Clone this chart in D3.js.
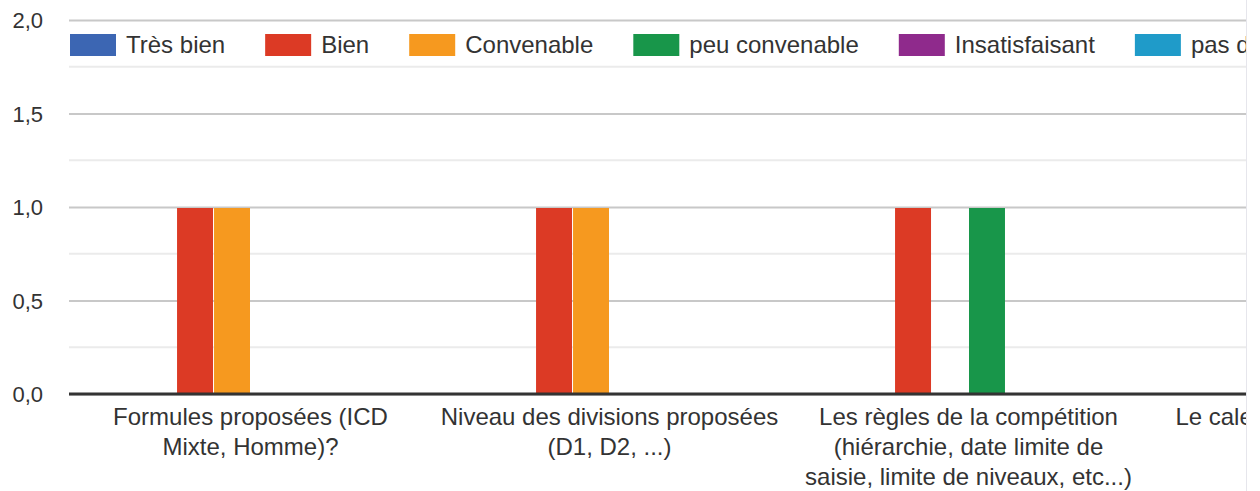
<!DOCTYPE html>
<html>
<head>
<meta charset="utf-8">
<script src="https://cdn.jsdelivr.net/npm/d3@7/dist/d3.min.js"></script>
<style>
  html, body { margin: 0; padding: 0; background: #fff; }
  svg { display: block; }
  svg text { font-family: "Liberation Sans", Arial, sans-serif; }
</style>
</head>
<body>
<svg id="chart" width="1260" height="491"></svg>
<script>
// data
var categories = [
  "Formules proposées (ICD Mixte, Homme)?",
  "Niveau des divisions proposées (D1, D2, ...)",
  "Les règles de la compétition (hiérarchie, date limite de saisie, limite de niveaux, etc...)",
  "Le calendrier des rencontres"
];
var seriesNames = ["Très bien", "Bien", "Convenable", "peu convenable", "Insatisfaisant", "pas d'avis"];
var seriesColors = ["#3c66b3", "#dc3a25", "#f6991f", "#18964a", "#8f2a8c", "#1f9bc9"];
var tresBien      = [0, 0, 0, 0];
var bien          = [1, 1, 1, 0];
var convenable    = [1, 1, 0, 0];
var peuConvenable = [0, 0, 1, 0];
var insatisfaisant = [0, 0, 0, 0];
var pasDavis      = [0, 0, 0, 0];
var yTicks = [0, 0.5, 1, 1.5, 2];
var yMinorTicks = [0.25, 0.75, 1.25, 1.75];

var values = [tresBien, bien, convenable, peuConvenable, insatisfaisant, pasDavis];

var svg = d3.select("#chart"),
    plotLeft = 69,
    plotRight = 1246,
    plotTop = 20,
    plotBottom = 394,
    step = 359;

var fmt = d3.formatLocale({decimal: ",", thousands: " ", grouping: [3], currency: ["", " €"]}).format(".1f");

svg.append("defs").append("clipPath").attr("id", "clip")
  .append("rect").attr("x", 0).attr("y", 0).attr("width", plotRight).attr("height", 491);

var g = svg.append("g").attr("clip-path", "url(#clip)");

var y = d3.scaleLinear().domain([0, 2]).range([plotBottom, plotTop]);

var x0 = d3.scaleBand()
    .domain(categories)
    .range([71, 71 + step * categories.length])
    .padding(0);

var bw = x0.bandwidth();
var x1 = d3.scaleBand()
    .domain(seriesNames)
    .range([bw * (1 - 0.618) / 2, bw * (1 + 0.618) / 2])
    .padding(0);

var color = d3.scaleOrdinal(seriesNames, seriesColors);

// minor gridlines
g.selectAll(".minor")
  .data(yMinorTicks)
  .enter().append("line")
    .attr("x1", plotLeft).attr("x2", plotRight)
    .attr("y1", function(d) { return y(d); })
    .attr("y2", function(d) { return y(d); })
    .attr("stroke", "#ebebeb")
    .attr("stroke-width", 2);

// y axis with major gridlines
var yAxis = g.append("g")
    .attr("transform", "translate(" + plotLeft + ",0)")
    .call(d3.axisLeft(y).tickValues(yTicks).tickFormat(fmt).tickSize(-(plotRight - plotLeft)).tickPadding(26));
yAxis.attr("font-family", null).attr("font-size", null);
yAxis.select(".domain").remove();
yAxis.selectAll(".tick line").attr("stroke", "#c8c8c8").attr("stroke-width", 2);
yAxis.selectAll(".tick text")
    .attr("fill", "#333")
    .style("font-size", "22px")
    .attr("dy", "0.35em");

// bars
var groups = g.selectAll(".group")
  .data(categories)
  .enter().append("g")
    .attr("class", "group")
    .attr("transform", function(d) { return "translate(" + x0(d) + ",0)"; });

groups.selectAll("rect")
  .data(function(d, i) {
    return seriesNames.map(function(s, j) { return {series: s, value: values[j][i]}; });
  })
  .enter().append("rect")
    .filter(function(d) { return d.value > 0; })
    .attr("x", function(d) { return x1(d.series) + 0.5; })
    .attr("width", x1.bandwidth() - 1)
    .attr("y", function(d) { return y(d.value) + 1; })
    .attr("height", function(d) { return y(0) - y(d.value) - 1; })
    .attr("fill", function(d) { return color(d.series); });

// baseline
g.append("line")
  .attr("x1", plotLeft).attr("x2", plotRight)
  .attr("y1", y(0)).attr("y2", y(0))
  .attr("stroke", "#333")
  .attr("stroke-width", 3);

// category labels, wrapped
function wrap(text, maxWidth) {
  text.each(function(d) {
    var el = d3.select(this),
        words = d.split(/\s+/),
        line = [],
        cx = el.attr("x"),
        tspan = el.append("tspan").attr("x", cx).attr("dy", 0);
    words.forEach(function(w) {
      line.push(w);
      tspan.text(line.join(" "));
      if (tspan.node().getComputedTextLength() > maxWidth && line.length > 1) {
        line.pop();
        tspan.text(line.join(" "));
        line = [w];
        tspan = el.append("tspan").attr("x", cx).attr("dy", 30).text(w);
      }
    });
  });
}

g.selectAll(".cat")
  .data(categories)
  .enter().append("text")
    .attr("class", "cat")
    .attr("x", function(d) { return x0(d) + bw / 2; })
    .attr("y", plotBottom + 31)
    .attr("text-anchor", "middle")
    .attr("fill", "#333")
    .style("font-size", "24px")
    .call(wrap, 340);

// legend
var lx = 70;
seriesNames.forEach(function(s) {
  var item = g.append("g").attr("transform", "translate(" + lx + ",0)");
  item.append("rect")
    .attr("x", 0).attr("y", 34)
    .attr("width", 46).attr("height", 22)
    .attr("fill", color(s));
  var t = item.append("text")
    .attr("x", 56).attr("y", 45)
    .attr("dy", "0.35em")
    .attr("fill", "#333")
    .style("font-size", "24px")
    .text(s);
  lx += 56 + t.node().getComputedTextLength() + 40;
});

// right edge of the visible frame
svg.append("line")
  .attr("x1", plotRight + 0.5).attr("x2", plotRight + 0.5)
  .attr("y1", 0).attr("y2", 491)
  .attr("stroke", "#e6e6ec")
  .attr("stroke-width", 1);
</script>
</body>
</html>
